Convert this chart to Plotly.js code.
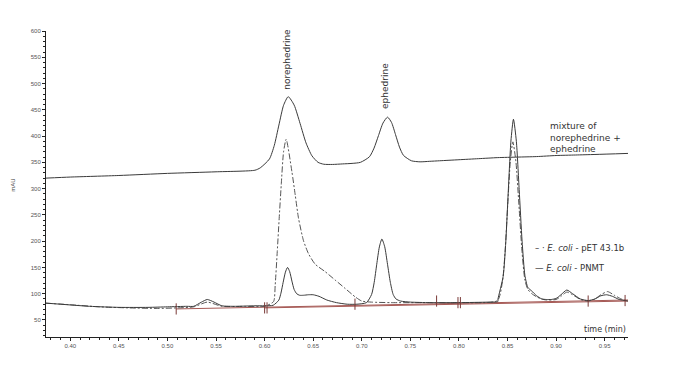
<!DOCTYPE html>
<html>
<head>
<meta charset="utf-8">
<script src="https://cdn.plot.ly/plotly-3.0.1.min.js"></script>
<style>html,body{margin:0;padding:0;background:#fff;}#chart{width:682px;height:379px;}</style>
</head>
<body>
<div id="chart"></div>
<script>
// Mixture of norephedrine + ephedrine
var mixTime = [0.375,0.40,0.45,0.50,0.55,0.59,0.5955,0.605,0.610,0.6147,0.6195,0.6243,0.6304,0.6365,0.6426,0.6487,0.655,0.6609,0.670,0.680,0.690,0.6986,0.7079,0.7126,0.7172,0.7218,0.7265,0.7306,0.7347,0.7388,0.7429,0.7511,0.760,0.770,0.780,0.80,0.82,0.84,0.86,0.88,0.90,0.92,0.94,0.974];
var mixVal  = [320,322,325,329,332,335,339.5,356.5,382.5,421,458.6,475,459,424,387,362.5,350,346.4,346,347,348,350,360.6,377,401,424.7,436,426,403,379,363.3,353,351,352,353,355,357,359,360,361,363,364,365,367];

// E. coli - PNMT
var pnmtTime = [0.375,0.39,0.42,0.45,0.48,0.50,0.52,0.527,0.535,0.541,0.548,0.556,0.57,0.59,0.60,0.6088,0.6146,0.6168,0.6191,0.6214,0.6236,0.6258,0.6281,0.6304,0.633,0.636,0.640,0.645,0.650,0.656,0.664,0.674,0.685,0.695,0.7048,0.7101,0.7128,0.7154,0.7181,0.7207,0.7236,0.7265,0.7294,0.7323,0.7352,0.74,0.75,0.77,0.80,0.83,0.84,0.8402,0.8455,0.8482,0.8508,0.8535,0.8561,0.8591,0.8620,0.8650,0.8679,0.8709,0.875,0.880,0.8853,0.89,0.895,0.90,0.905,0.911,0.917,0.925,0.933,0.94,0.946,0.952,0.958,0.965,0.974];
var pnmtVal  = [82,80,76,74,74,75,76,76,84,89,84,77,76,77,77,78,87.7,101,121.7,141,150,142,124,108,100,97,97,98,98,95,88,83,80,80,83,98.5,121.7,156,189,204,189.4,156,121.7,98.5,90,86,84,83,83,84,85,90,132.7,198,296,390.5,432,390,298,200,134.7,112,105,96,90,89,89,91,98,107,100,90,87,90,96,98,95,89,86];

// E. coli - pET 43.1b
var petTime = [0.375,0.40,0.43,0.46,0.49,0.51,0.527,0.541,0.556,0.58,0.60,0.6092,0.6109,0.613,0.615,0.6171,0.6195,0.6222,0.6281,0.6315,0.6349,0.6400,0.6452,0.6521,0.6623,0.6726,0.6829,0.6932,0.700,0.71,0.73,0.76,0.80,0.8396,0.8449,0.8476,0.8502,0.8529,0.8555,0.8586,0.8617,0.8648,0.8679,0.871,0.875,0.880,0.885,0.89,0.90,0.905,0.911,0.917,0.925,0.933,0.94,0.946,0.953,0.96,0.967,0.974];
var petVal  = [82,79,75,73,72,73,75,84,76,76,76,85,117,180,243.6,307,370,394,332,288,243.6,201,176,156,142,126,110,94,86,84,83,83,83,87,125,183,269,352,389,352,270,183,126,108,100,94,90,88,89,95,103,98,89,86,90,98,104,97,90,86];

// integration baselines
var base1Time = [0.509, 0.974];
var base1Val  = [71, 88];
var base2Time = [0.600, 0.974];
var base2Val  = [73, 86];

// integration event markers
var evTime = [0.509, 0.600, 0.6025, 0.693, 0.777, 0.799, 0.8015, 0.933, 0.971];
var evVal  = [71, 73, 73, 80, 86, 83, 83, 86, 87];

// tick labels
var xTicks = [0.40,0.45,0.50,0.55,0.60,0.65,0.70,0.75,0.80,0.85,0.90,0.95];
var xTickText = ['0.40','0.45','0.50','0.55','0.60','0.65','0.70','0.75','0.80','0.85','0.90','0.95'];
var yTicks = [50,100,150,200,250,300,350,400,450,500,550,600];

var lineCol = '#3a3a3a';
var redCol = '#a65a56';

var traces = [
  {x: base1Time, y: base1Val, mode:'lines', line:{color:redCol, width:1}, hoverinfo:'skip'},
  {x: base2Time, y: base2Val, mode:'lines', line:{color:redCol, width:1}, hoverinfo:'skip'},
  {x: mixTime, y: mixVal, mode:'lines', line:{color:lineCol, width:1, shape:'spline', smoothing:0.6}},
  {x: petTime, y: petVal, mode:'lines', line:{color:'#555', width:1, dash:'6px,2px,2px,2px', shape:'spline', smoothing:0.6}},
  {x: pnmtTime, y: pnmtVal, mode:'lines', line:{color:lineCol, width:1, shape:'spline', smoothing:0.6}},
  {x: evTime, y: evVal, mode:'markers', marker:{symbol:'line-ns', size:8, line:{color:'#7a3a38', width:1}}, hoverinfo:'skip'}
];

var tickFont = {family:'Liberation Sans, Arial, sans-serif', size:6, color:'#555'};
var annFont = {family:'DejaVu Sans, sans-serif', size:9, color:'#333'};

var layout = {
  width:682, height:379,
  margin:{l:46, r:54, t:31, b:42},
  paper_bgcolor:'#fff', plot_bgcolor:'#fff',
  showlegend:false,
  xaxis:{
    range:[0.375,0.974], showgrid:false, zeroline:false,
    showline:true, linecolor:'#222', linewidth:1,
    ticks:'outside', ticklen:3, tickcolor:'#222', tickwidth:1,
    tickvals:xTicks, ticktext:xTickText, tickfont:tickFont,
    minor:{dtick:0.01, ticks:'outside', ticklen:2, tickcolor:'#222', showgrid:false}
  },
  yaxis:{
    range:[17.6,600], showgrid:false, zeroline:false,
    showline:true, linecolor:'#222', linewidth:1,
    ticks:'outside', ticklen:3, tickcolor:'#222', tickwidth:1,
    tickvals:yTicks, tickfont:tickFont,
    minor:{dtick:10, ticks:'outside', ticklen:2, tickcolor:'#222', showgrid:false}
  },
  annotations:[
    {xref:'x', yref:'y', x:0.6233, y:484, text:'norephedrine', textangle:-90, showarrow:false, xanchor:'center', yanchor:'bottom', font:annFont},
    {xref:'x', yref:'y', x:0.724, y:448, text:'ephedrine', textangle:-90, showarrow:false, xanchor:'center', yanchor:'bottom', font:annFont},
    {xref:'x', yref:'y', x:0.8918, y:433, text:'mixture of<br>norephedrine +<br>ephedrine', showarrow:false, xanchor:'left', yanchor:'top', align:'left', font:annFont},
    {xref:'x', yref:'y', x:0.8763, y:187, text:'– · <i>E. coli</i> - pET 43.1b', showarrow:false, xanchor:'left', yanchor:'middle', align:'left', font:{family:'DejaVu Sans, sans-serif', size:8.5, color:'#333'}},
    {xref:'x', yref:'y', x:0.8763, y:149, text:'— <i>E. coli</i> - PNMT', showarrow:false, xanchor:'left', yanchor:'middle', align:'left', font:{family:'DejaVu Sans, sans-serif', size:8.5, color:'#333'}},
    {xref:'paper', yref:'paper', x:1, y:0, text:'time (min)', showarrow:false, xanchor:'right', yanchor:'bottom', yshift:1, font:{family:'DejaVu Sans, sans-serif', size:8, color:'#333'}},
    {xref:'paper', yref:'paper', x:-0.057, y:0.497, text:'mAU', textangle:-90, showarrow:false, xanchor:'center', yanchor:'middle', font:{family:'Liberation Sans, Arial, sans-serif', size:6, color:'#444'}}
  ]
};

Plotly.newPlot('chart', traces, layout, {displayModeBar:false, staticPlot:true});
</script>
</body>
</html>
